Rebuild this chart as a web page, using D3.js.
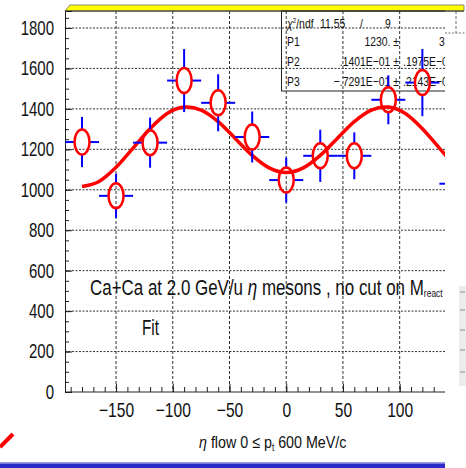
<!DOCTYPE html>
<html>
<head>
<meta charset="utf-8">
<script src="https://cdn.jsdelivr.net/npm/d3@7"></script>
<style>
  html, body { margin: 0; padding: 0; background: #ffffff; }
  svg { display: block; }
  text { font-family: "Liberation Sans", Arial, Helvetica, sans-serif; fill: #111; }
</style>
</head>
<body>
<svg id="chart" width="466" height="468"></svg>
<script>
// ---------- data ----------
const binCenters = [-180, -150, -120, -90, -60, -30, 0, 30, 60, 90, 120, 150];
const counts     = [1236, 970, 1233, 1540, 1430, 1261, 1048, 1168, 1168, 1445, 1530, 1030];
const countErrs  = [124, 109, 124, 156, 141, 126, 111, 129, 116, 121, 166, 120];
const binHalfWidth = 15;

const fitX = [-180,-165,-150,-135,-120,-105,-90,-75,-60,-45,-30,-15,0,15,30,45,60,75,90,105,120,135,150,165,180];
const fitY = [1016,1041,1111,1206,1302,1377,1409,1394,1337,1254,1170,1108,1085,1108,1170,1254,1337,1394,1409,1377,1302,1206,1111,1041,1016];

const xTicks = [-150, -100, -50, 0, 50, 100, 150];
const yTicks = [0, 200, 400, 600, 800, 1000, 1200, 1400, 1600, 1800];
const xMinorTicks = d3.range(-190, 200, 10);
const yMinorTicks = d3.range(0, 1900, 50);

const statsRows = [
  ["P1", "1230. \u00b1", "31.47"],
  ["P2", ".1401E\u221201 \u00b1", ".1975E\u221201"],
  ["P3", "\u2212.7291E\u221201 \u00b1", ".2143E\u221201"]
];
const chiLabel = ["\u03c7", "/ndf", "11.55", "/", "9"];

// ---------- layout ----------
const svg = d3.select("#chart");
const x = d3.scaleLinear().domain([-195, 195]).range([65, 65 + 390 * 1.1345]);
const y = d3.scaleLinear().domain([0, 1884]).range([392, 11]);
const plotL = 65, plotR = 445, plotT = 11, plotB = 392;

function narrow(sel, sx) {
  sel.each(function () {
    const t = d3.select(this);
    const ax = +t.attr("x") || 0;
    t.attr("transform", `translate(${ax},0) scale(${sx},1) translate(${-ax},0)`);
  });
}
function fitWidth(sel, x0, w) {
  const bw = sel.node().getBBox().width;
  sel.attr("transform", `translate(${x0},0) scale(${w / bw},1) translate(${-x0},0)`);
}

const defs = svg.append("defs");
defs.append("clipPath").attr("id", "plotClip")
  .append("rect").attr("x", plotL).attr("y", plotT).attr("width", plotR - plotL).attr("height", plotB - plotT);
defs.append("clipPath").attr("id", "statClip")
  .append("rect").attr("x", 270).attr("y", 0).attr("width", plotR - 270).attr("height", 100);

// yellow title bar
svg.append("path")
  .attr("d", `M${plotL},${plotT} L70,5 L464,5 L464,${plotT} Z`)
  .attr("fill", "#ffff00").attr("stroke", "#8a8a6a").attr("stroke-width", 1);

// grid
const gridG = svg.append("g").attr("clip-path", "url(#plotClip)");
gridG.selectAll("line.gx").data(xTicks).join("line")
  .attr("x1", d => x(d)).attr("x2", d => x(d)).attr("y1", plotT).attr("y2", plotB)
  .attr("stroke", "#333").attr("stroke-width", 1).attr("stroke-dasharray", "3,2");
gridG.selectAll("line.gy").data(yTicks.filter(d => d > 0)).join("line")
  .attr("x1", plotL).attr("x2", plotR).attr("y1", d => y(d)).attr("y2", d => y(d))
  .attr("stroke", "#333").attr("stroke-width", 1).attr("stroke-dasharray", "2,1.5");

// stray elements at right
svg.append("line").attr("x1", 456).attr("x2", 456).attr("y1", plotT).attr("y2", 33)
  .attr("stroke", "#666").attr("stroke-dasharray", "3,2");
svg.append("line").attr("x1", 445).attr("x2", 466).attr("y1", 33).attr("y2", 33)
  .attr("stroke", "#777").attr("stroke-dasharray", "2,1.5");
svg.append("rect").attr("x", 459).attr("y", 286).attr("width", 7).attr("height", 100).attr("fill", "#ececec");
[292, 310, 330, 350, 372].forEach(v => {
  svg.append("line").attr("x1", 460).attr("x2", 465).attr("y1", v).attr("y2", v)
    .attr("stroke", "#bbb").attr("stroke-width", 2);
});

// axes
const yAxis = svg.append("g").attr("transform", `translate(${plotL},0)`)
  .call(d3.axisLeft(y).tickValues(yTicks).tickSize(-7).tickPadding(11).tickFormat(d3.format("d")));
svg.append("g").attr("transform", `translate(${plotL},0)`)
  .call(d3.axisLeft(y).tickValues(yMinorTicks).tickSize(-4).tickFormat(""))
  .call(g => g.select(".domain").remove());
const xAxis = svg.append("g").attr("transform", `translate(0,${plotB})`)
  .call(d3.axisBottom(x).tickValues(xTicks).tickSize(-8).tickPadding(11)
    .tickFormat(d => d < 0 ? "\u2212" + Math.abs(d) : String(d)));
svg.append("g").attr("transform", `translate(0,${plotB})`)
  .call(d3.axisBottom(x).tickValues(xMinorTicks).tickSize(-5).tickFormat(""))
  .call(g => g.select(".domain").remove());

[yAxis, xAxis].forEach(g => {
  g.select(".domain").attr("stroke", "#222");
  g.selectAll(".tick line").attr("stroke", "#222");
});
svg.selectAll(".tick line").attr("stroke", "#222");
svg.selectAll("g").filter(function () { return this.getAttribute("fill") === "none"; });
// clip x axis at the cropped edge
xAxis.select(".domain").attr("d", `M${plotL},0H${plotR}`);
xAxis.selectAll(".tick").filter(d => x(d) > plotR).remove();
svg.selectAll(".tick").filter(function (d) {
  return this.parentNode.getAttribute("transform") === `translate(0,${plotB})` && x(d) > plotR;
}).remove();

yAxis.selectAll("text").attr("font-size", 20).attr("font-family", "Liberation Sans, Arial, sans-serif").attr("fill", "#111");
yAxis.selectAll("text").each(function () { narrow(d3.select(this), 0.75); });
xAxis.selectAll("text").attr("font-size", 20).attr("font-family", "Liberation Sans, Arial, sans-serif").attr("fill", "#111");
xAxis.selectAll("text").each(function () {
  const t = d3.select(this);
  t.attr("transform", "scale(0.78,1)");
});

// top frame line
svg.append("line").attr("x1", plotL).attr("x2", 464).attr("y1", plotT).attr("y2", plotT)
  .attr("stroke", "#222").attr("stroke-width", 1);

// stats box
const statG = svg.append("g").attr("clip-path", "url(#statClip)");
statG.append("rect").attr("x", 281.5).attr("y", plotT).attr("width", 200).attr("height", 80)
  .attr("fill", "none").attr("stroke", "#222").attr("stroke-width", 1);
const chiT = statG.append("text").attr("x", 287).attr("y", 28).attr("font-size", 13);
chiT.append("tspan").text(chiLabel[0]).attr("font-style", "italic");
chiT.append("tspan").text("2").attr("font-size", 8).attr("dy", -5);
chiT.append("tspan").text(chiLabel[1]).attr("dy", 5);
narrow(chiT, 0.8);
[[chiLabel[2], 320], [chiLabel[3], 360], [chiLabel[4], 385]].forEach(([s, px]) => {
  const t = statG.append("text").attr("x", px).attr("y", 28).attr("font-size", 13).text(s);
  narrow(t, 0.8);
});
statsRows.forEach((r, i) => {
  const by = [46, 66, 86][i];
  narrow(statG.append("text").attr("x", 287).attr("y", by).attr("font-size", 13).text(r[0]), 0.8);
  narrow(statG.append("text").attr("x", 399).attr("y", by).attr("font-size", 13)
    .attr("text-anchor", "end").text(r[1]), 0.8);
  narrow(statG.append("text").attr("x", i === 0 ? 439 : 403).attr("y", by).attr("font-size", 13).text(r[2]), 0.8);
});

// fit curve
const plotG = svg.append("g").attr("clip-path", "url(#plotClip)");
const line = d3.line().x((d, i) => x(fitX[i])).y(d => y(d)).curve(d3.curveCardinal);
plotG.append("path").datum(fitY).attr("d", line)
  .attr("fill", "none").attr("stroke", "#ff0000").attr("stroke-width", 3.5);

// points with error bars
const rx = 7.5, ry = 12.5;
const pts = binCenters.map((c, i) => ({ c, v: counts[i], e: countErrs[i] }));
const pg = plotG.selectAll("g.pt").data(pts).join("g");
pg.append("line").attr("x1", d => x(d.c - binHalfWidth)).attr("x2", d => x(d.c) - rx)
  .attr("y1", d => y(d.v)).attr("y2", d => y(d.v)).attr("stroke", "#0000ff").attr("stroke-width", 2);
pg.append("line").attr("x1", d => x(d.c) + rx).attr("x2", d => x(d.c + binHalfWidth))
  .attr("y1", d => y(d.v)).attr("y2", d => y(d.v)).attr("stroke", "#0000ff").attr("stroke-width", 2);
pg.append("line").attr("x1", d => x(d.c)).attr("x2", d => x(d.c))
  .attr("y1", d => y(d.v + d.e)).attr("y2", d => y(d.v) - ry).attr("stroke", "#0000ff").attr("stroke-width", 2);
pg.append("line").attr("x1", d => x(d.c)).attr("x2", d => x(d.c))
  .attr("y1", d => y(d.v) + ry).attr("y2", d => y(d.v - d.e)).attr("stroke", "#0000ff").attr("stroke-width", 2);
pg.append("ellipse").attr("cx", d => x(d.c)).attr("cy", d => y(d.v)).attr("rx", rx).attr("ry", ry)
  .attr("fill", "none").attr("stroke", "#ff0000").attr("stroke-width", 2.5);

// annotation texts
const ann = svg.append("text").attr("x", 90).attr("y", 295).attr("font-size", 22);
ann.append("tspan").text("Ca+Ca at 2.0 GeV/u ");
ann.append("tspan").text("\u03b7").attr("font-style", "italic");
ann.append("tspan").text(" mesons , no cut on M");
ann.append("tspan").text("react").attr("font-size", 11).attr("dy", 2);
fitWidth(ann, 90, 353);

const fitT = svg.append("text").attr("x", 142).attr("y", 335).attr("font-size", 22).text("Fit");
fitWidth(fitT, 142, 17);

const xt = svg.append("text").attr("x", 199).attr("y", 448).attr("font-size", 17);
xt.append("tspan").text("\u03b7").attr("font-style", "italic");
xt.append("tspan").text(" flow 0 \u2264 p");
xt.append("tspan").text("t").attr("font-size", 10).attr("dy", 3);
xt.append("tspan").text(" 600 MeV/c").attr("dy", -3);
fitWidth(xt, 199, 148);

// decorations: bottom blue bar, red slash
svg.append("rect").attr("x", 0).attr("y", 462).attr("width", 445).attr("height", 1.5).attr("fill", "#9a9ae0");
svg.append("rect").attr("x", 0).attr("y", 463.5).attr("width", 445).attr("height", 4.5).attr("fill", "#2b2bc8");
svg.append("line").attr("x1", 0).attr("y1", 447).attr("x2", 13).attr("y2", 434)
  .attr("stroke", "#ff0000").attr("stroke-width", 4);
</script>
</body>
</html>
